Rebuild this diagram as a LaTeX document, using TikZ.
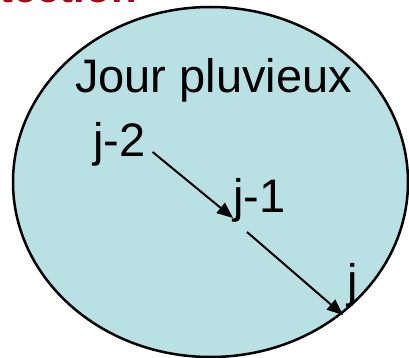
\documentclass[tikz,border=0pt]{standalone}
\usepackage{fontspec}
\setmainfont{Liberation Sans}
\usepackage{tikz}
\usetikzlibrary{arrows.meta,positioning,calc}
\definecolor{pluie}{RGB}{185,224,227}
\definecolor{titrerouge}{RGB}{165,10,20}

\begin{document}
\begin{tikzpicture}[
        x=1pt, y=-1pt,
        lbl/.style={inner sep=0pt, anchor=base west, font=\fontsize{47}{56}\selectfont},
        suite/.style={line width=2pt, -{Triangle[length=16pt,width=13pt]}}
      ]
      \useasboundingbox (0,0) rectangle (409,358);
      \begin{scope}
        \clip (0,0) rectangle (409,358);
        \node[inner sep=0pt, anchor=base east, text=titrerouge,
              font=\fontsize{42}{50}\selectfont\bfseries] (titre) at (137,3) {tection};
      \end{scope}
      \draw[line width=2.5pt, fill=pluie] (210.5,182) ellipse [x radius=197.5, y radius=175];
      \node[lbl] (jour) at (75,93) {Jour pluvieux};
      \node[lbl] (j2) at (93,157) {j-2};
      \node[lbl] (j1) at (233,212) {j-1};
      \node[lbl] (j0) at (347,297) {j};
      \draw[suite] ($(j2.base east)+(7,-5)$) -- ($(j1.base west)+(0,6)$);
      \draw[suite] ($(j1.base west)+(14,20)$) -- ($(j0.base west)+(-4,18)$);
    \end{tikzpicture}
\end{document}
